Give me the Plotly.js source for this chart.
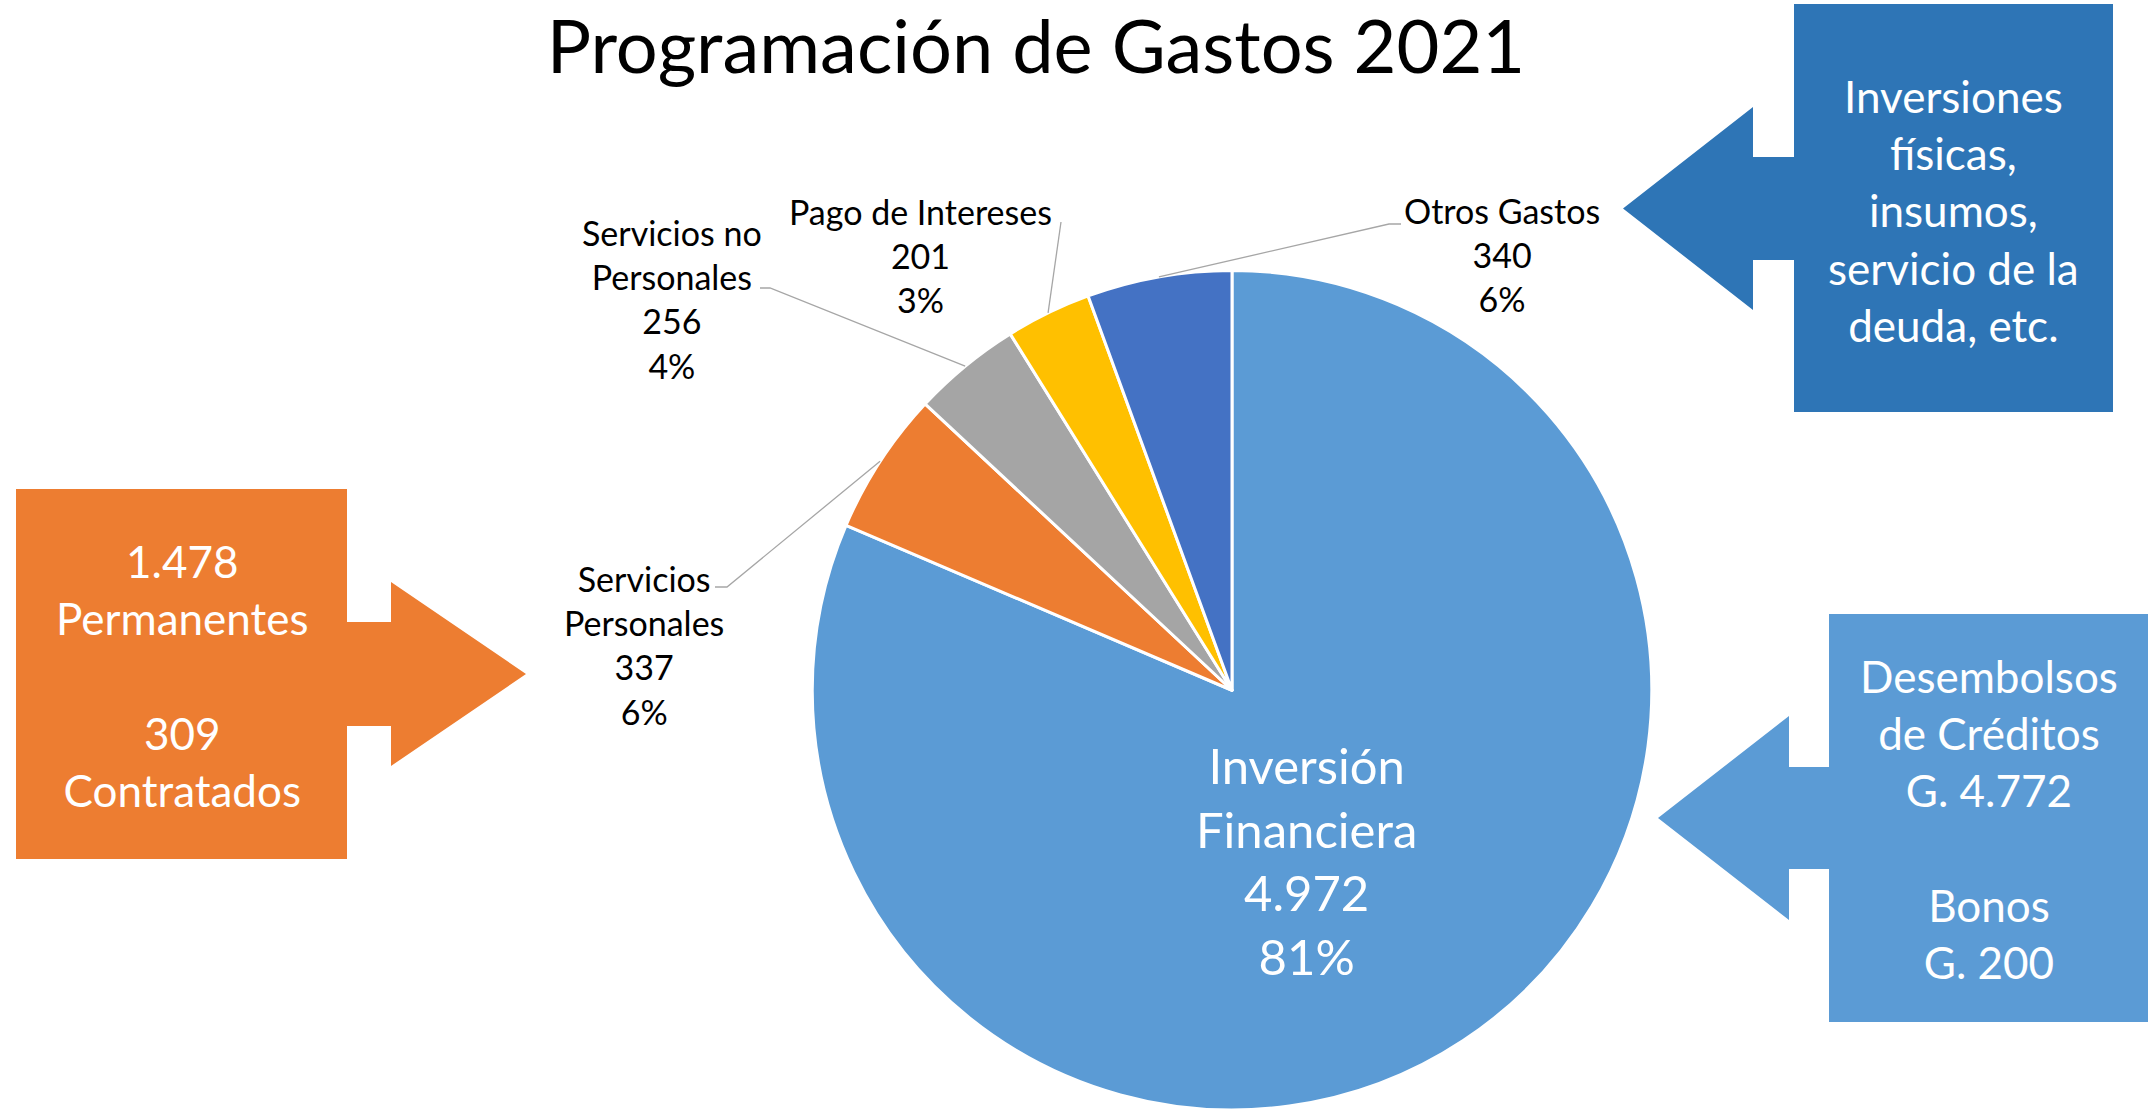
<!DOCTYPE html>
<html>
<head>
<meta charset="utf-8">
<script src="https://cdn.plot.ly/plotly-3.0.1.min.js"></script>
<style>html,body{margin:0;padding:0;background:#fff;}#chart{width:2151px;height:1110px;}</style>
</head>
<body>
<div id="chart"></div>
<script>
// ---- data ----
const categories = ['Inversión Financiera', 'Servicios Personales', 'Servicios no Personales', 'Pago de Intereses', 'Otros Gastos'];
const categoryLines = ['Inversión<br>Financiera', 'Servicios<br>Personales', 'Servicios no<br>Personales', 'Pago de Intereses', 'Otros Gastos'];
const values = [4972, 337, 256, 201, 340];
const sliceColors = ['#5B9BD5', '#ED7D31', '#A5A5A5', '#FFC000', '#4472C4'];

const personalLabels = ['Permanentes', 'Contratados'];
const personalValues = [1478, 309];
const financieraLabels = ['Desembolsos<br>de Créditos', 'Bonos'];
const financieraValues = [4772, 200];
const otrosText = 'Inversiones<br>físicas,<br>insumos,<br>servicio de la<br>deuda, etc.';
const chartTitle = 'Programación de Gastos 2021';

// ---- layout helpers (pixel -> paper) ----
const W = 2151, H = 1110;
const px = x => x / W;
const py = y => 1 - y / H;
const FONT = 'Lato, "Open Sans", sans-serif';
const fmt = v => String(v).replace(/\B(?=(\d{3})+(?!\d))/g, '.');
const total = values.reduce((a, b) => a + b, 0);
const pct = v => Math.round(v / total * 100) + '%';

// pie geometry (pixels)
const CX = 1232, CY = 690.5, R = 420;

// label anchor positions (pixels) and leader line starts
const labelPos = [[1306, 860], [644, 645], [672, 299], [920, 256], [1502, 255]];
const leaderStart = [null, [[715, 587], [727, 587]], [[760, 288], [770, 288]], [[1061, 222]], [[1401, 224], [1389, 224]]];

// mid angle of each slice (clockwise from 12 o'clock)
const midAngles = [];
let acc = 0;
values.forEach(v => { const a = v / total * 360; midAngles.push(acc + a / 2); acc += a; });

const annotations = [];
const shapes = [];

categories.forEach((c, i) => {
  const inside = i === 0;
  annotations.push({
    xref: 'paper', yref: 'paper', x: px(labelPos[i][0]), y: py(labelPos[i][1]),
    xanchor: 'center', yanchor: 'middle', showarrow: false, align: 'center',
    text: categoryLines[i] + '<br>' + fmt(values[i]) + '<br>' + pct(values[i]),
    font: {family: FONT, size: inside ? 49 : 34, color: inside ? '#FFFFFF' : '#000000'}
  });
  if (leaderStart[i]) {
    const th = midAngles[i] * Math.PI / 180;
    const ex = CX + R * Math.sin(th), ey = CY - R * Math.cos(th);
    const pts = leaderStart[i].concat([[ex, ey]]);
    const path = pts.map((p, k) => (k ? 'L ' : 'M ') + px(p[0]) + ' ' + py(p[1])).join(' ');
    shapes.push({type: 'path', xref: 'paper', yref: 'paper', path: path, line: {color: '#A6A6A6', width: 1.3}});
  }
});

function poly(points) {
  return points.map((p, k) => (k ? 'L ' : 'M ') + px(p[0]) + ' ' + py(p[1])).join(' ') + ' Z';
}
// callout shapes
shapes.push({type: 'path', xref: 'paper', yref: 'paper', fillcolor: '#2E75B6', line: {width: 0},
  path: poly([[1794, 4], [2113, 4], [2113, 412], [1794, 412], [1794, 260], [1753, 260], [1753, 310], [1623, 208.5], [1753, 107], [1753, 157], [1794, 157]])});
shapes.push({type: 'path', xref: 'paper', yref: 'paper', fillcolor: '#ED7D31', line: {width: 0},
  path: poly([[16, 489], [347, 489], [347, 622], [391, 622], [391, 582], [526, 674], [391, 766], [391, 726], [347, 726], [347, 859], [16, 859]])});
shapes.push({type: 'path', xref: 'paper', yref: 'paper', fillcolor: '#5B9BD5', line: {width: 0},
  path: poly([[1829, 614], [2148, 614], [2148, 1022], [1829, 1022], [1829, 869], [1789, 869], [1789, 920], [1658, 818], [1789, 716], [1789, 767], [1829, 767]])});

const calloutFont = {family: FONT, size: 44, color: '#FFFFFF'};
annotations.push({xref: 'paper', yref: 'paper', x: px(1953), y: py(210), xanchor: 'center', yanchor: 'middle',
  showarrow: false, align: 'center', text: otrosText, font: calloutFont});
annotations.push({xref: 'paper', yref: 'paper', x: px(182), y: py(675), xanchor: 'center', yanchor: 'middle',
  showarrow: false, align: 'center', font: calloutFont,
  text: personalValues.map((v, i) => fmt(v) + '<br>' + personalLabels[i]).join('<br><br>')});
annotations.push({xref: 'paper', yref: 'paper', x: px(1989), y: py(819), xanchor: 'center', yanchor: 'middle',
  showarrow: false, align: 'center', font: calloutFont,
  text: financieraValues.map((v, i) => financieraLabels[i] + '<br>G. ' + fmt(v)).join('<br><br>')});

const trace = {
  type: 'pie', labels: categories, values: values, sort: false, direction: 'clockwise', rotation: 0,
  marker: {colors: sliceColors, line: {color: '#FFFFFF', width: 3}},
  textinfo: 'none', hoverinfo: 'label+value+percent', showlegend: false,
  domain: {x: [px(CX - R), px(CX + R)], y: [0, py(CY - R)]}
};

const layout = {
  width: W, height: H, margin: {l: 0, r: 0, t: 0, b: 0},
  paper_bgcolor: '#FFFFFF', plot_bgcolor: '#FFFFFF', showlegend: false,
  title: {text: chartTitle, font: {family: FONT, size: 74, color: '#000000'},
    x: px(1036), xanchor: 'center', y: py(47), yanchor: 'middle'},
  annotations: annotations, shapes: shapes
};

Plotly.newPlot('chart', [trace], layout, {displayModeBar: false, staticPlot: true});
</script>
</body>
</html>
